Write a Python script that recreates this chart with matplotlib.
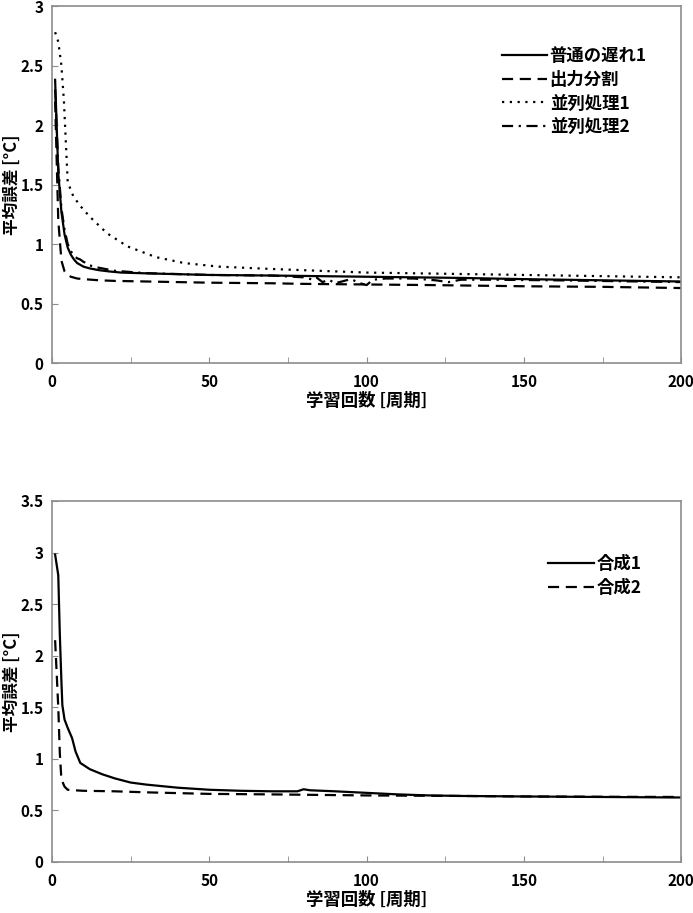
import matplotlib
matplotlib.use('Agg')
import matplotlib.pyplot as plt

plt.rcParams['font.family'] = ['Noto Sans CJK JP', 'DejaVu Sans']
plt.rcParams['font.weight'] = 'bold'

# --- top chart data ---
x_normal = [1, 2, 3, 4, 5, 6, 7, 8, 10, 12, 15, 18, 22, 28, 35, 50, 70, 100, 130, 150, 175, 200]
y_normal = [2.38, 1.6, 1.27, 1.08, 0.97, 0.91, 0.87, 0.84, 0.81, 0.795, 0.78, 0.77, 0.76, 0.755, 0.75, 0.74, 0.735, 0.725, 0.715, 0.705, 0.695, 0.685]

x_split = [1, 2, 3, 4, 5, 6, 8, 10, 15, 20, 30, 50, 70, 80, 100, 120, 150, 175, 200]
y_split = [2.2, 1.2, 0.86, 0.77, 0.74, 0.725, 0.71, 0.705, 0.695, 0.69, 0.685, 0.675, 0.67, 0.665, 0.66, 0.655, 0.645, 0.64, 0.63]

x_para1 = [1, 2, 3, 3.8, 5, 6.8, 9, 12, 17.5, 24, 33, 42, 53, 70, 100, 125, 150, 175, 200]
y_para1 = [2.78, 2.7, 2.5, 2.2, 1.52, 1.4, 1.32, 1.23, 1.09, 0.98, 0.89, 0.84, 0.81, 0.79, 0.76, 0.75, 0.74, 0.73, 0.72]

x_para2 = [1, 2, 3, 4, 5, 6, 7, 8, 9, 10, 11, 12, 15, 20, 30, 50, 70, 80, 83, 84, 86, 88, 90, 95,
           98, 100, 102, 106, 115, 122, 126, 130, 140, 160, 200]
y_para2 = [2.3, 1.65, 1.3, 1.12, 1.0, 0.94, 0.9, 0.88, 0.87, 0.85, 0.84, 0.82, 0.8, 0.775, 0.755, 0.74, 0.735, 0.72, 0.7, 0.72, 0.68, 0.7, 0.67, 0.705,
           0.67, 0.655, 0.7, 0.71, 0.71, 0.695, 0.68, 0.7, 0.7, 0.695, 0.68]

# --- bottom chart data ---
x_comp1 = [1, 2, 2.5, 3, 3.3, 4, 5, 6.4, 7.5, 9, 12, 16, 20, 25, 30, 40, 50, 60, 70, 78, 80, 82, 90, 100, 110, 120, 130, 150, 175, 200]
y_comp1 = [2.98, 2.78, 2.2, 1.75, 1.52, 1.38, 1.3, 1.2, 1.07, 0.96, 0.9, 0.85, 0.81, 0.77, 0.75, 0.72, 0.7, 0.69, 0.685, 0.685, 0.705, 0.695, 0.685, 0.67, 0.655, 0.645, 0.64, 0.635, 0.63, 0.625]

x_comp2 = [1, 2, 2.5, 3, 4, 5, 7, 10, 20, 30, 50, 70, 100, 130, 150, 175, 200]
y_comp2 = [2.15, 1.5, 1.05, 0.8, 0.73, 0.7, 0.695, 0.69, 0.685, 0.675, 0.66, 0.655, 0.645, 0.64, 0.635, 0.632, 0.63]

xticks = [0, 50, 100, 150, 200]
xlabel = '学習回数 [周期]'
ylabel = '平均誤差 [°C]'

spine_col = '#8c8c8c'


def style_axes(ax, ymax):
    ax.set_xlim(0, 200)
    ax.set_ylim(0, ymax)
    ax.set_xticks(xticks)
    ax.set_xticks(range(0, 201, 25), minor=True)
    n = int(ymax / 0.5) + 1
    ax.set_yticks([v * 0.5 for v in range(n)])
    ax.set_yticklabels(['%g' % (v * 0.5) for v in range(n)])
    for sp in ax.spines.values():
        sp.set_color(spine_col)
        sp.set_linewidth(1.2)
    ax.tick_params(direction='in', colors=spine_col, labelcolor='black', labelsize=11, length=4)
    ax.tick_params(axis='x', which='minor', direction='in', colors=spine_col, length=4)
    ax.tick_params(axis='x', pad=8)
    ax.tick_params(axis='y', pad=6)
    ax.set_xlabel(xlabel, fontsize=12.5, fontweight='bold', labelpad=1)
    ax.set_ylabel(ylabel, fontsize=12, fontweight='bold')
    ax.yaxis.set_label_coords(-0.049, 0.5)


fig = plt.figure(figsize=(6.93, 9.13), dpi=100)
ax1 = fig.add_axes([0.075, 0.6024, 0.908, 0.391])
ax2 = fig.add_axes([0.075, 0.0559, 0.908, 0.3954])

lw = 1.6
leg_kw = dict(loc='upper left', frameon=False, handlelength=2.6, handletextpad=0.15,
              labelspacing=0.33, borderaxespad=0, borderpad=0,
              prop={'weight': 'bold', 'size': 12.5})

ax1.plot(x_normal, y_normal, color='black', lw=lw, ls='-', label='普通の遅れ1')
ax1.plot(x_split, y_split, color='black', lw=lw, ls=(0, (5, 3)), label='出力分割')
ax1.plot(x_para1, y_para1, color='black', lw=lw, ls=(0, (1, 2.5)), label='並列処理1')
ax1.plot(x_para2, y_para2, color='black', lw=lw, ls=(0, (5, 2.5, 1, 2.5)), label='並列処理2')
style_axes(ax1, 3)
ax1.legend(bbox_to_anchor=(0.715, 0.885), **leg_kw)

ax2.plot(x_comp1, y_comp1, color='black', lw=lw, ls='-', label='合成1')
ax2.plot(x_comp2, y_comp2, color='black', lw=lw, ls=(0, (5, 3)), label='合成2')
style_axes(ax2, 3.5)
ax2.legend(bbox_to_anchor=(0.789, 0.85), **leg_kw)

fig.savefig('out.png', dpi=100)
